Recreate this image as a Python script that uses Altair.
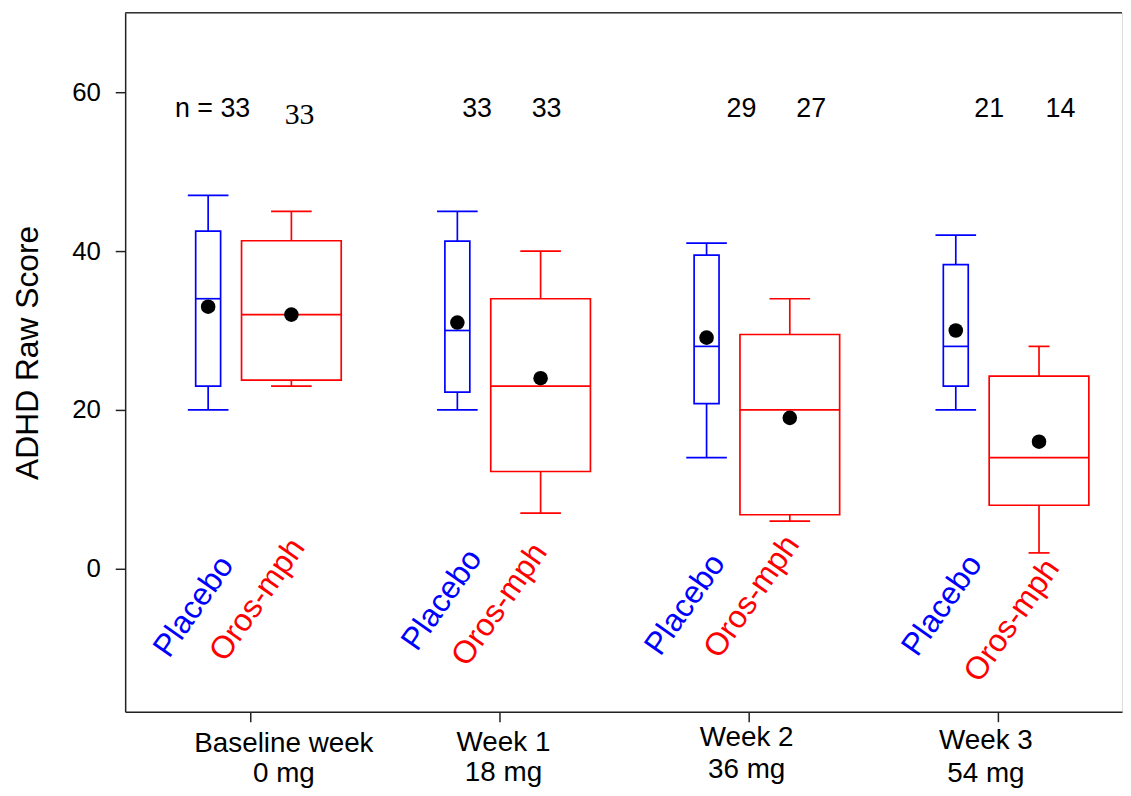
import altair as alt
import pandas as pd

# ---------------- data ----------------
weeks = ["Baseline week", "Week 1", "Week 2", "Week 3"]
doses = ["0 mg", "18 mg", "36 mg", "54 mg"]
treatments = ["Placebo", "Oros-mph"]

n_placebo = [33, 33, 29, 21]
n_oros = [33, 33, 27, 14]

placebo_min = [20, 20, 14, 20]
placebo_q1 = [23, 22.25, 20.8, 23]
placebo_median = [34, 30, 28, 28]
placebo_q3 = [42.5, 41.25, 39.5, 38.3]
placebo_max = [47, 45, 41, 42]
placebo_mean = [33, 31, 29.1, 30]

oros_min = [23, 7, 6, 2]
oros_q1 = [23.75, 12.25, 6.8, 8]
oros_median = [32, 23, 20, 14]
oros_q3 = [41.3, 34, 29.5, 24.25]
oros_max = [45, 40, 34, 28]
oros_mean = [32, 24, 19, 16]

# ---------------- layout / style ----------------
GROUP_OFFSET = {"Placebo": -0.167, "Oros-mph": 0.167}
BOX_WIDTH = {"Placebo": 0.1, "Oros-mph": 0.4}
CAP_WIDTH = {"Placebo": [0.163, 0.163, 0.163, 0.163],
             "Oros-mph": [0.163, 0.163, 0.163, 0.084]}
COLORS = ["#0000FF", "#FF0000"]
# annotation anchors (x in group units, y in score units)
N_LABEL_X = {"Placebo": [0.851, 1.912, 2.973, 3.967],
             "Oros-mph": [1.200, 2.191, 3.253, 4.253]}
N_LABEL_Y = 57.9
NAME_LABEL_X = {"Placebo": [0.775, 1.771, 2.747, 3.778],
                "Oros-mph": [1.030, 2.002, 3.014, 4.058]}
NAME_LABEL_Y = {"Placebo": [-4.75, -3.9, -4.5, -4.6],
                "Oros-mph": [-3.9, -4.5, -3.5, -6.5]}
TICK_LABEL_X = [1.137, 2.018, 2.994, 3.954]
TICK_LABEL_Y1 = [-20.3, -20.2, -19.5, -20.0]
TICK_LABEL_Y2 = [-24.1, -24.0, -23.6, -24.1]

stats = {
    "Placebo": (placebo_min, placebo_q1, placebo_median, placebo_q3, placebo_max, placebo_mean, n_placebo),
    "Oros-mph": (oros_min, oros_q1, oros_median, oros_q3, oros_max, oros_mean, n_oros),
}

rows, nrows, lrows = [], [], []
for t in treatments:
    mn, q1, med, q3, mx, mean, n = stats[t]
    for i in range(len(weeks)):
        xc = i + 1 + GROUP_OFFSET[t]
        rows.append(dict(treatment=t, xc=xc,
                         box_lo=xc - BOX_WIDTH[t] / 2, box_hi=xc + BOX_WIDTH[t] / 2,
                         cap_lo=xc - CAP_WIDTH[t][i] / 2, cap_hi=xc + CAP_WIDTH[t][i] / 2,
                         mn=mn[i], q1=q1[i], med=med[i], q3=q3[i], mx=mx[i], mean=mean[i]))
        label = str(n[i])
        serif = False
        if i == 0 and t == "Placebo":
            label = "n = " + label
        if i == 0 and t == "Oros-mph":
            serif = True
        nrows.append(dict(text=label, x=N_LABEL_X[t][i],
                          y=N_LABEL_Y - (0.8 if serif else 0), serif=serif))
        lrows.append(dict(treatment=t, x=NAME_LABEL_X[t][i], y=NAME_LABEL_Y[t][i]))

df = pd.DataFrame(rows)
ndf = pd.DataFrame(nrows)
ldf = pd.DataFrame(lrows)
tdf = pd.DataFrame(dict(week=weeks, dose=doses, x=TICK_LABEL_X,
                        y1=TICK_LABEL_Y1, y2=TICK_LABEL_Y2))

FONT = "Liberation Sans"

xs = alt.Scale(domain=[0.5, 4.5], nice=False, zero=False)
ys = alt.Scale(domain=[-18, 70], nice=False, zero=False)

xaxis = alt.Axis(values=[1, 2, 3, 4], labels=False, tickSize=10, grid=False,
                 domainColor="#222", domainWidth=1.5, tickColor="#222", tickWidth=1.5,
                 title="")
yaxis = alt.Axis(values=[0, 20, 40, 60], tickSize=10, labelPadding=15, labelFontSize=26,
                 grid=False, domainColor="#222", domainWidth=1.5, tickColor="#222",
                 tickWidth=1.5, labelColor="black", labelFont=FONT,
                 title="ADHD Raw Score", titleFontSize=32, titleFontWeight="normal",
                 titleFont=FONT, titleColor="black", titleAngle=270,
                 titleBaseline="middle", titleAlign="center", titleX=-98, titleY=342)


def X(f):
    return alt.X(f, type="quantitative", scale=xs, axis=xaxis)


def Y(f):
    return alt.Y(f, type="quantitative", scale=ys, axis=yaxis)


stroke = alt.Stroke("treatment:N", scale=alt.Scale(domain=treatments, range=COLORS), legend=None)
color = alt.Color("treatment:N", scale=alt.Scale(domain=treatments, range=COLORS), legend=None)

base = alt.Chart(df)
SW = 1.7

boxes = base.mark_rect(fill="transparent", strokeWidth=SW).encode(
    x=X("box_lo"), x2="box_hi", y=Y("q1"), y2="q3", stroke=stroke)
whisk_hi = base.mark_rule(strokeWidth=SW).encode(x=X("xc"), y=Y("q3"), y2="mx", stroke=stroke)
whisk_lo = base.mark_rule(strokeWidth=SW).encode(x=X("xc"), y=Y("mn"), y2="q1", stroke=stroke)
cap_hi = base.mark_rule(strokeWidth=SW).encode(x=X("cap_lo"), x2="cap_hi", y=Y("mx"), stroke=stroke)
cap_lo = base.mark_rule(strokeWidth=SW).encode(x=X("cap_lo"), x2="cap_hi", y=Y("mn"), stroke=stroke)
medians = base.mark_rule(strokeWidth=SW).encode(x=X("box_lo"), x2="box_hi", y=Y("med"), stroke=stroke)
means = base.mark_circle(color="black", size=215, opacity=1).encode(x=X("xc"), y=Y("mean"))

n_sans = alt.Chart(ndf).transform_filter("!datum.serif").mark_text(
    font=FONT, fontSize=27, color="black", align="center", baseline="middle").encode(
    x=X("x"), y=Y("y"), text="text:N")
n_serif = alt.Chart(ndf).transform_filter("datum.serif").mark_text(
    font="Liberation Serif", fontSize=30, color="black", align="center", baseline="middle").encode(
    x=X("x"), y=Y("y"), text="text:N")

names = alt.Chart(ldf).mark_text(font=FONT, fontSize=32, angle=305, align="center",
                                 baseline="middle").encode(
    x=X("x"), y=Y("y"), text="treatment:N", color=color)

week_lbl = alt.Chart(tdf).mark_text(font=FONT, fontSize=28, color="black", align="center",
                                    baseline="top").encode(x=X("x"), y=Y("y1"), text="week:N")
dose_lbl = alt.Chart(tdf).mark_text(font=FONT, fontSize=28, color="black", align="center",
                                    baseline="top").encode(x=X("x"), y=Y("y2"), text="dose:N")

top_rule = alt.Chart(pd.DataFrame({"a": [0]})).mark_rule(color="#333", strokeWidth=1.5).encode(
    x=alt.value(0), x2=alt.value(1004), y=alt.value(0))

chart = alt.layer(boxes, whisk_hi, whisk_lo, cap_hi, cap_lo, medians, means,
                  n_sans, n_serif, names, week_lbl, dose_lbl, top_rule).properties(
    width=1004, height=704,
    autosize=alt.AutoSizeParams(type="none"),
    padding={"left": 118, "top": 2, "right": 1, "bottom": 78},
).configure_view(stroke="#999", strokeWidth=1).configure(font=FONT)

chart.save("out.html", embed_options={"renderer": "svg", "actions": False})
